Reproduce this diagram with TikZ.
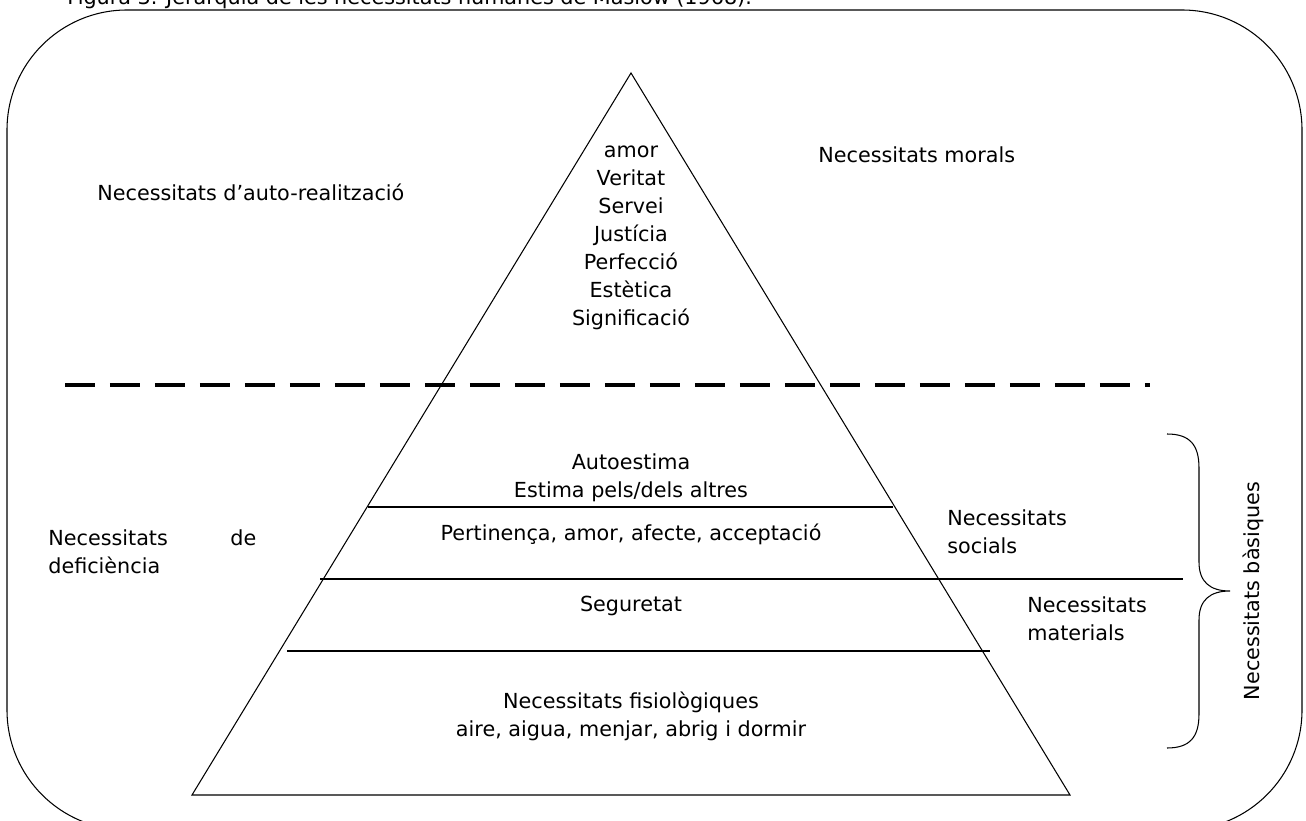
\documentclass[tikz,border=0pt]{standalone}
\usepackage{fontspec}
\setmainfont{DejaVu Sans}
\usepackage{tikz}
\usepackage{xcolor}

\begin{document}
\begin{tikzpicture}[
	x=0.02cm, y=-0.02cm,
	every node/.style={font=\fontsize{11.8}{16}\selectfont, inner sep=0pt},
	label/.style={anchor=west, align=left},
	level/.style={align=center},
	edge/.style={line width=0.6pt},
	divider/.style={line width=2.8pt, dash pattern=on 0.6cm off 0.3cm}
]
\useasboundingbox (0,0) rectangle (1306,821);
% frame and caption
\draw[edge, rounded corners=2.4cm] (7,10) rectangle (1302,830);
\node[anchor=base west] (caption) at (67,5) {Figura 3. Jerarquia de les necessitats humanes de Maslow (1968).};

% pyramid
\coordinate (apex) at (631,73);
\coordinate (bl) at (192,795);
\coordinate (br) at (1070,795);
\draw[edge] (apex) -- (bl) -- (br) -- cycle;

\coordinate (l1a) at (368,507); \coordinate (l1b) at (893,507);
\coordinate (l2a) at (320,579); \coordinate (l2b) at (1183,579);
\coordinate (l3a) at (287,651); \coordinate (l3b) at (990,651);
\draw[edge] (l1a) -- (l1b);
\draw[edge] (l2a) -- (l2b);
\draw[edge] (l3a) -- (l3b);

\coordinate (dl) at (65,385); \coordinate (dr) at (1150,385);
\draw[divider] (dl) -- (dr);

% levels
\node[level] (top) at (631,238) {amor\\Veritat\\Servei\\Justícia\\Perfecció\\Estètica\\Significació};
\node[level] (esteem) at (631,478) {Autoestima\\Estima pels/dels altres};
\node[level] (belong) at (631,534) {Pertinença, amor, afecte, acceptació};
\node[level] (safety) at (631,606) {Seguretat};
\node[level] (physio) at (631,716) {Necessitats fisiològiques\\aire, aigua, menjar, abrig i dormir};

% side labels
\node[label] (selfreal) at (97,192) {Necessitats d’auto-realització};
\node[label] (moral) at (818,155) {Necessitats morals};
\node[label, text width=208*0.02cm] (deficit) at (48,552) {Necessitats\hfill de\\deficiència};
\node[label] (social) at (947,532) {Necessitats\\socials};
\node[label] (material) at (1027,619) {Necessitats\\materials};

% brace
\draw[edge] (1167,434) .. controls (1190,434) and (1199,445) .. (1199,468) -- (1199,562)
	.. controls (1199,582) and (1210,591) .. (1230,591)
	.. controls (1210,591) and (1199,600) .. (1199,620) -- (1199,714)
	.. controls (1199,737) and (1190,748) .. (1167,748);
\node[rotate=90] (basic) at (1253,591) {Necessitats bàsiques};
\end{tikzpicture}
\end{document}
